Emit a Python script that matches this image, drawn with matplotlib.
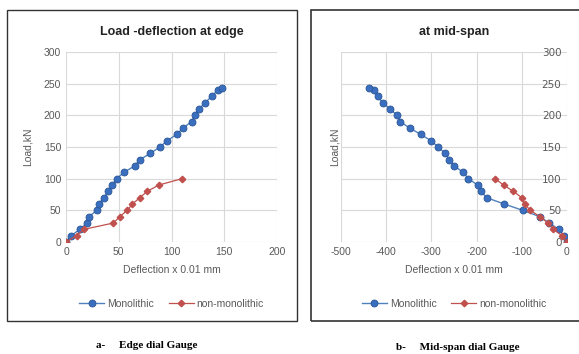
import matplotlib
matplotlib.use("Agg")
import matplotlib.pyplot as plt
from matplotlib.patches import Rectangle

plt.rcParams["axes.unicode_minus"] = False

# Edge dial gauge (deflection x 0.01 mm, load kN)
edge_mono_defl = [0, 5, 13, 20, 22, 29, 31, 36, 40, 44, 48, 55, 65, 70, 80, 89, 96, 105,
                  111, 119, 122, 126, 132, 138, 144, 148]
edge_mono_load = [0, 10, 20, 30, 40, 50, 60, 70, 80, 90, 100, 110, 120, 130, 140, 150, 160,
                  170, 180, 190, 200, 210, 220, 230, 240, 243]
edge_non_defl = [0, 10, 17, 45, 51, 58, 63, 70, 77, 88, 110]
edge_non_load = [0, 10, 20, 30, 40, 50, 60, 70, 80, 90, 100]

# Mid-span dial gauge
mid_mono_defl = [0, -7, -18, -40, -60, -98, -139, -178, -190, -198, -218, -230, -249, -260,
                 -270, -285, -301, -324, -348, -369, -376, -391, -408, -419, -428, -437]
mid_mono_load = [0, 10, 20, 30, 40, 50, 60, 70, 80, 90, 100, 110, 120, 130, 140, 150, 160,
                 170, 180, 190, 200, 210, 220, 230, 240, 243]
mid_non_defl = [0, -11, -30, -42, -60, -81, -94, -100, -119, -140, -160]
mid_non_load = [0, 10, 20, 30, 40, 50, 60, 70, 80, 90, 100]

BLUE_LINE = "#4F81BD"
BLUE_FACE = "#3A6FC0"
BLUE_EDGE = "#2A5596"
RED = "#C0504D"
GRID = "#D9D9D9"
TXT = "#595959"
FONT = "Liberation Sans"

W, H = 579, 354
fig = plt.figure(figsize=(W / 100, H / 100), dpi=100)
fig.patch.set_facecolor("white")

# panel borders
fig.patches.append(Rectangle((7 / W, 1 - 321 / H), (297 - 7) / W, (321 - 10) / H,
                             transform=fig.transFigure, fill=False, ec="#333333", lw=1.0))
fig.patches.append(Rectangle((311 / W, 1 - 321 / H), (585 - 311) / W, (321 - 10) / H,
                             transform=fig.transFigure, fill=False, ec="#333333", lw=1.2))


def style(ax):
    for s in ax.spines.values():
        s.set_visible(False)
    ax.grid(True, color=GRID, lw=0.8)
    ax.set_axisbelow(True)
    ax.tick_params(length=0, labelsize=7.5, colors=TXT)
    for lab in ax.get_xticklabels() + ax.get_yticklabels():
        lab.set_fontfamily(FONT)
    ax.set_ylim(0, 300)
    ax.set_yticks(range(0, 301, 50))
    ax.set_xlabel("Deflection x 0.01 mm", fontsize=7.5, color=TXT, family=FONT, labelpad=6)


def plot_series(ax, xm, ym, xn, yn):
    ax.plot(xm, ym, color=BLUE_LINE, lw=1.0, marker="o", ms=5, mfc=BLUE_FACE,
            mec=BLUE_EDGE, mew=0.6, label="Monolithic", zorder=3)
    ax.plot(xn, yn, color=RED, lw=0.9, marker="D", ms=3.3, mfc=RED, mec=RED,
            label="non-monolithic", zorder=4)


def add_legend(ax):
    ax.legend(loc="upper center", bbox_to_anchor=(0.5, -0.25), ncol=2, frameon=False,
              prop={"family": FONT, "size": 7.5}, labelcolor=TXT, handlelength=2.4,
              handletextpad=0.3, columnspacing=1.4)


ax1 = fig.add_axes([66 / W, 1 - 242 / H, 211 / W, 190 / H])
plot_series(ax1, edge_mono_defl, edge_mono_load, edge_non_defl, edge_non_load)
ax1.set_xlim(0, 200)
ax1.set_xticks(range(0, 201, 50))
style(ax1)
ax1.set_ylabel("Load,kN", fontsize=7.5, color=TXT, family=FONT, labelpad=8)
ax1.set_title("Load -deflection at edge", fontsize=9, fontweight="bold", family=FONT,
              color="#222222", pad=12)
add_legend(ax1)

ax2 = fig.add_axes([341 / W, 1 - 242 / H, 226 / W, 190 / H])
plot_series(ax2, mid_mono_defl, mid_mono_load, mid_non_defl, mid_non_load)
ax2.set_xlim(-500, 0)
ax2.set_xticks(range(-500, 1, 100))
style(ax2)
ax2.tick_params(axis="y", labelleft=False, labelright=True, pad=-4)
for lab in ax2.get_yticklabels():
    lab.set_horizontalalignment("right")
ax2.set_ylabel("Load,kN", fontsize=7.5, color=TXT, family=FONT, labelpad=1)
ax2.set_title("at mid-span", fontsize=9, fontweight="bold", family=FONT,
              color="#222222", pad=12)
add_legend(ax2)

fig.text(147 / W, 1 - 345 / H, "a-     Edge dial Gauge", ha="center", va="center",
         fontsize=8, fontweight="bold", family="Liberation Serif")
fig.text(458 / W, 1 - 347 / H, "b-     Mid-span dial Gauge", ha="center", va="center",
         fontsize=8, fontweight="bold", family="Liberation Serif")

fig.savefig("out.png", dpi=100)
